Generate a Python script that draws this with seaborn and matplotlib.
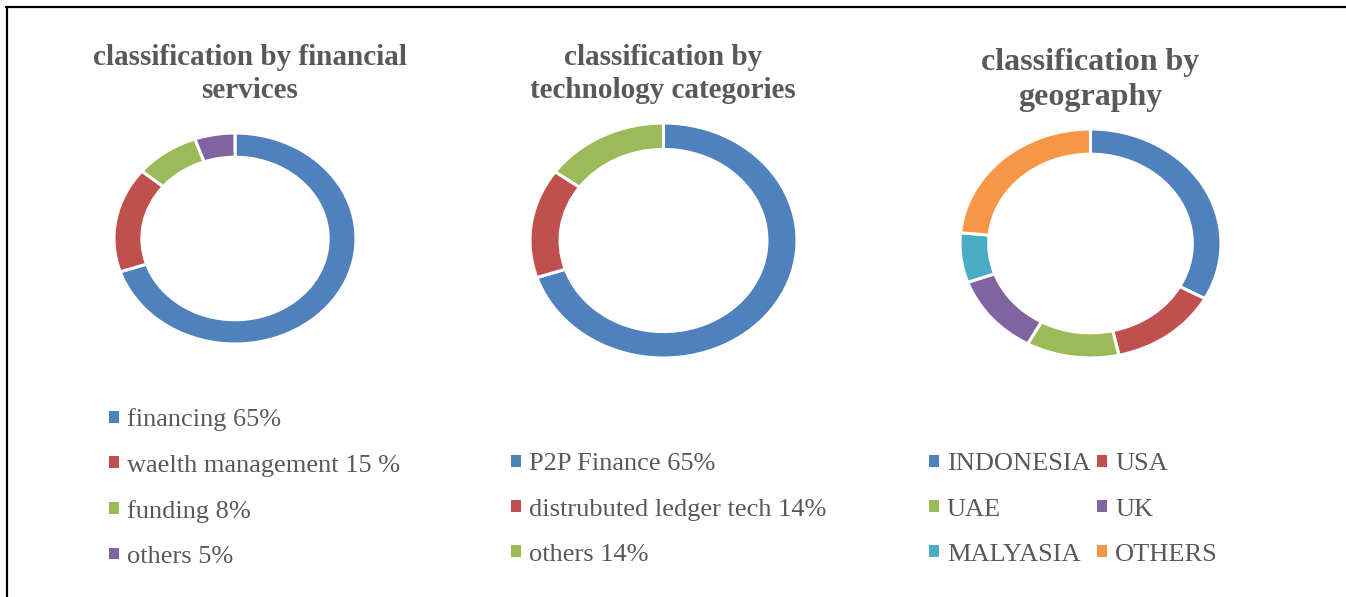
import matplotlib
matplotlib.use("Agg")
import matplotlib.pyplot as plt
from matplotlib.lines import Line2D
from matplotlib.patches import Patch
import seaborn as sns

# data
fin_labels = ["financing 65%", "waelth management 15 %", "funding 8%", "others 5%"]
fin_values = [65, 15, 8, 5]

tech_labels = ["P2P Finance 65%", "distrubuted ledger tech 14%", "others 14%"]
tech_values = [65, 14, 14]

geo_labels = ["INDONESIA", "USA", "UAE", "UK", "MALYASIA", "OTHERS"]
geo_values = [33, 13.5, 11.5, 11.5, 7, 23.5]

titles = ["classification by financial\nservices",
          "classification by\ntechnology categories",
          "classification by\ngeography"]

palette = sns.color_palette(["#4F81BD", "#C0504D", "#9BBB59", "#8064A2", "#4BACC6", "#F79646"])
TXT = "#595959"

sns.set_theme(style="white")
plt.rcParams["font.family"] = ["Liberation Serif", "DejaVu Serif"]

W, H = 1346, 597
fig = plt.figure(figsize=(W / 100, H / 100), dpi=100)


def px_axes(x0, x1, y0, y1):
    return fig.add_axes([x0 / W, 1 - y1 / H, (x1 - x0) / W, (y1 - y0) / H])


def donut(ax, values, width):
    ax.pie(values, colors=palette[:len(values)], startangle=90, counterclock=False,
           wedgeprops=dict(width=width, edgecolor="white", linewidth=2.2))
    ax.set_aspect("auto")
    ax.set_xlim(-1, 1)
    ax.set_ylim(-1, 1)
    ax.axis("off")
    return [Patch(facecolor=palette[i], edgecolor="none") for i in range(len(values))]


ax1 = px_axes(114, 356, 133, 344)
h1 = donut(ax1, fin_values, 0.23)
ax2 = px_axes(530, 797, 123, 358)
h2 = donut(ax2, tech_values, 0.225)
ax3 = px_axes(960, 1221, 129, 358)
h3 = donut(ax3, geo_values, 0.22)

# titles
fig.text(250 / W, 1 - 74 / H, titles[0], ha="center", va="center", fontsize=21,
         fontweight="bold", color=TXT, linespacing=1.29)
fig.text(663 / W, 1 - 74 / H, titles[1], ha="center", va="center", fontsize=21,
         fontweight="bold", color=TXT, linespacing=1.29)
fig.text(1090 / W, 1 - 80 / H, titles[2], ha="center", va="center", fontsize=23,
         fontweight="bold", color=TXT, linespacing=1.28)

leg_kw = dict(frameon=False, fontsize=19, handlelength=0.38, handleheight=0.3,
              handletextpad=0.3, labelspacing=0.876, borderpad=0, borderaxespad=0,
              labelcolor=TXT, columnspacing=0.25)
fig.legend(h1, fin_labels, loc="upper left", bbox_to_anchor=(109 / W, 1 - 408.5 / H), **leg_kw)
fig.legend(h2, tech_labels, loc="upper left", bbox_to_anchor=(511 / W, 1 - 453.5 / H), **leg_kw)
# row-wise order for the two-column legend
order = [0, 2, 4, 1, 3, 5]
fig.legend([h3[i] for i in order], [geo_labels[i] for i in order], loc="upper left",
           bbox_to_anchor=(929 / W, 1 - 453.5 / H), ncol=2, **leg_kw)

# frame lines (top and left only)
fig.add_artist(Line2D([6 / W, 1], [1 - 7 / H, 1 - 7 / H], color="black", lw=1.6))
fig.add_artist(Line2D([7 / W, 7 / W], [0, 1 - 7 / H], color="black", lw=1.6))

fig.savefig("out.png", dpi=100, facecolor="white")
